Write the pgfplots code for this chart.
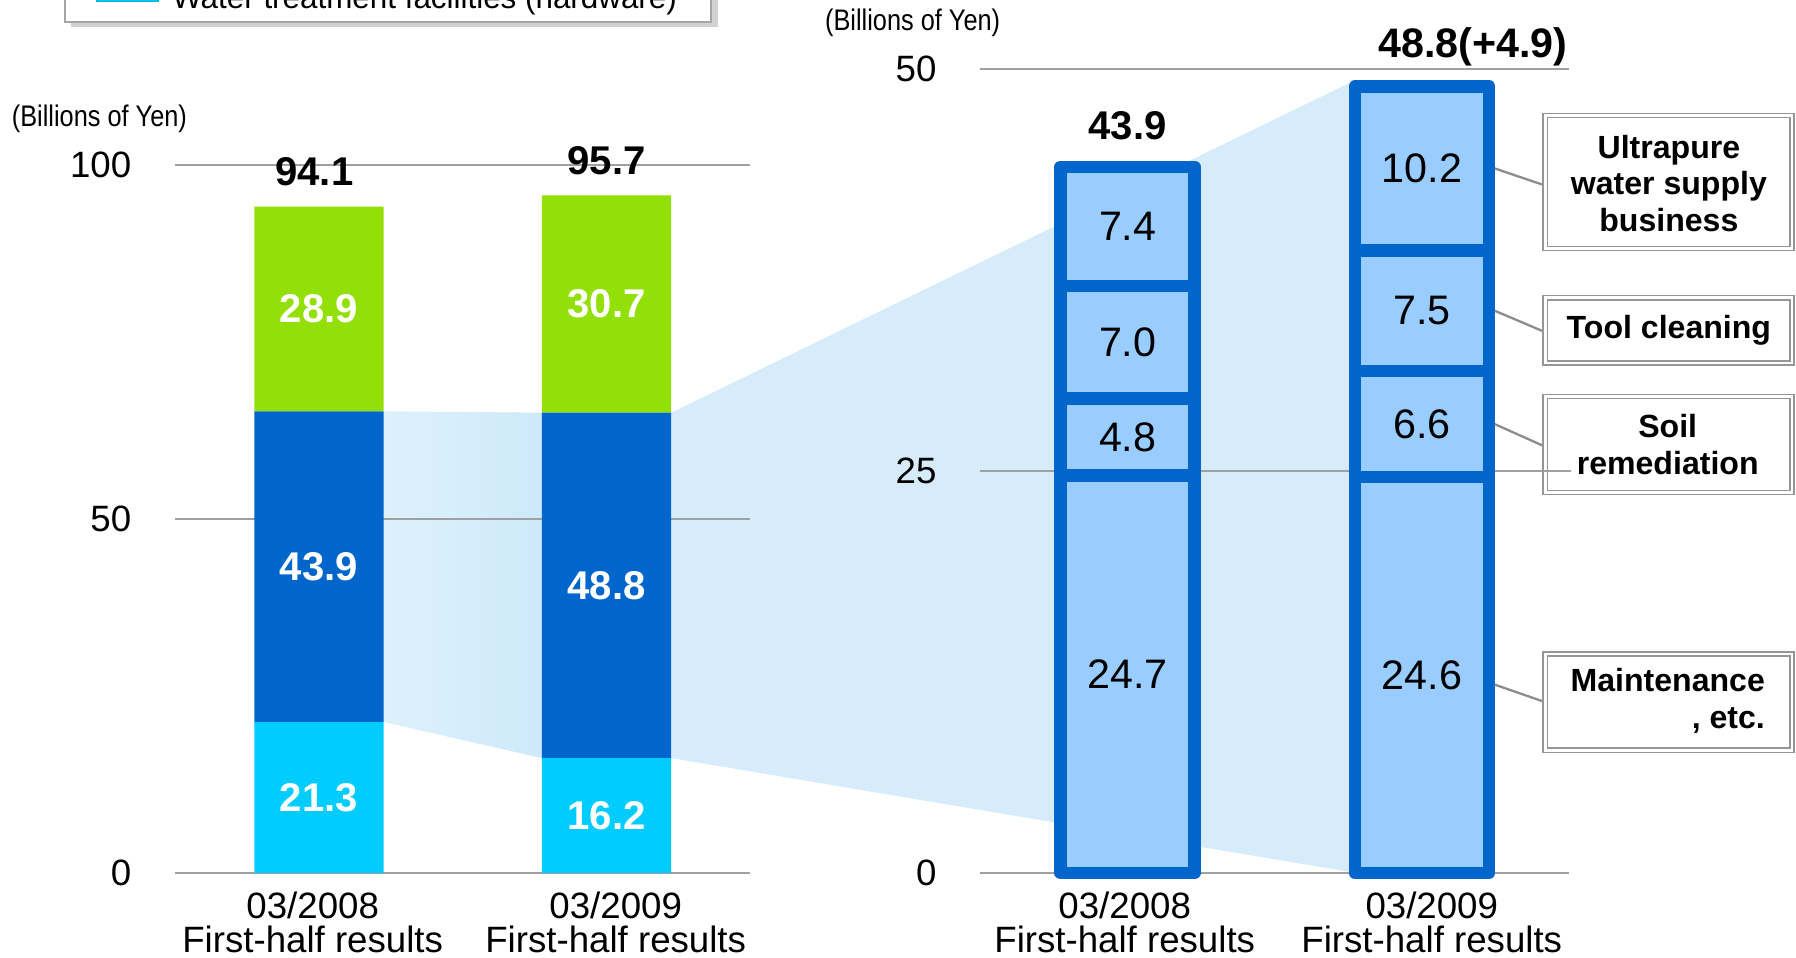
\documentclass[border=0pt]{standalone}
\usepackage{pgfplots}
\pgfplotsset{compat=1.18}
\usepackage{fontspec}
\setmainfont{Liberation Sans}
\newfontfamily\narrowfont{Liberation Sans}[FakeStretch=0.85]
\definecolor{wgreen}{RGB}{146,224,8}
\definecolor{wblue}{RGB}{0,102,204}
\definecolor{wcyan}{RGB}{0,204,255}
\definecolor{lbar}{RGB}{153,204,255}
\definecolor{shadeB}{RGB}{214,236,251}
\definecolor{shadeL}{RGB}{221,241,252}
\definecolor{shadeR}{RGB}{206,233,250}
\definecolor{gridc}{RGB}{160,160,160}
\definecolor{boxc}{RGB}{150,150,150}
\pgfplotsset{
  base/.style={
    scale only axis, anchor=south west, clip=false,
    axis line style={draw=none}, major tick length=0pt,
    ymin=0, xmin=-0.5, xmax=1.5,
    /pgf/number format/assume math mode=true,
    tick label style={font=\fontsize{16}{15}\selectfont},
    yticklabel style={anchor=east, inner sep=0pt, xshift=-19pt},
    xticklabel style={anchor=north, inner sep=0pt, align=center, yshift=-8pt},
  },
  leftgeo/.style={base, at={(76.5pt,37pt)}, width=251pt, height=309pt, ymax=100},
  rightgeo/.style={base, at={(428pt,37pt)}, width=257pt, height=351pt, ymax=50},
}
\tikzset{
  wlab/.style={font=\bfseries\fontsize{17.5}{18}\selectfont, text=white},
  blab/.style={font=\fontsize{18}{18}\selectfont},
  tot/.style={inner sep=0pt, font=\bfseries\fontsize{17.5}{18}\selectfont},
  conn/.style={draw=gray!90, line width=1pt},
  cbox/.style={draw=boxc, double=white, double distance=1.2pt, line width=0.6pt, fill=white},
  ctext/.style={font=\bfseries\fontsize{14}{16}\selectfont, inner sep=0pt},
}
\begin{document}
\begin{tikzpicture}
\path[use as bounding box] (0,0) rectangle (784pt,418pt);
\begin{scope}
\clip (0,0) rectangle (784pt,418pt);

% legend box (cut off at top, as in the reference)
\fill[gray!35] (31pt,406pt) rectangle (313.5pt,430pt);
\draw[fill=white, draw=gray!70, line width=0.9pt] (28.5pt,408.5pt) rectangle (310.5pt,430pt);
\draw[fill=wcyan, draw=wcyan!85!black, line width=0.5pt] (42pt,417.5pt) rectangle (69pt,426pt);
\node[anchor=base west, inner sep=0pt, font=\fontsize{13.7}{16}\selectfont] at (75pt,414.5pt) {Water treatment facilities (hardware)};

% unit labels
\node[anchor=west, inner sep=0pt, font=\narrowfont\fontsize{13}{15}\selectfont] at (5pt,366pt) {(Billions of Yen)};
\node[anchor=west, inner sep=0pt, font=\narrowfont\fontsize{13}{15}\selectfont] at (360pt,408pt) {(Billions of Yen)};

% ---- pass 1: invisible axes that only fix the anchor points of the shading
\begin{axis}[leftgeo, hide axis]
\addplot[draw=none, mark=none] coordinates {(0,0) (1,0)};
\coordinate (a1t) at (axis cs:0,65.2);
\coordinate (a1b) at (axis cs:0,21.3);
\coordinate (a2t) at (axis cs:1,65.0);
\coordinate (a2b) at (axis cs:1,16.2);
\end{axis}
\begin{axis}[rightgeo, hide axis]
\addplot[draw=none, mark=none] coordinates {(0,0) (1,0)};
\coordinate (r2t) at (axis cs:1,48.9);
\coordinate (r2b) at (axis cs:1,0);
\end{axis}

% connecting shading
\shade[left color=shadeL, right color=shadeR]
  ([xshift=28.25pt]a1t) -- ([xshift=-28.25pt]a2t) -- ([xshift=-28.25pt]a2b) -- ([xshift=28.25pt]a1b) -- cycle;
\fill[shadeB]
  ([xshift=28.25pt]a2t) -- ([xshift=-31.75pt,yshift=1.5pt]r2t) -- ([xshift=-29.25pt]r2b) -- ([xshift=28.25pt]a2b) -- cycle;

% ---------------- left chart ----------------
\begin{axis}[leftgeo, ybar stacked, ymajorgrids, grid style={gridc, line width=0.8pt},
  ytick={0,50,100}, bar width=56.5pt,
  xtick={-0.022,1.032},
  xticklabels={{03/2008\\First-half results},{03/2009\\First-half results}}]
\addplot[fill=wcyan, draw=none] coordinates {(0,21.3) (1,16.2)};
\addplot[fill=wblue, draw=none] coordinates {(0,43.9) (1,48.8)};
\addplot[fill=wgreen, draw=none] coordinates {(0,28.9) (1,30.7)};
\coordinate (l1) at (axis cs:0,10.65);
\coordinate (l2) at (axis cs:0,43.25);
\coordinate (l3) at (axis cs:0,79.65);
\coordinate (l4) at (axis cs:1,8.1);
\coordinate (l5) at (axis cs:1,40.6);
\coordinate (l6) at (axis cs:1,80.35);
\coordinate (lt1) at (axis cs:0,94.1);
\coordinate (lt2) at (axis cs:1,95.7);
\end{axis}
\node[wlab] at (l1) {21.3};
\node[wlab] at (l2) {43.9};
\node[wlab] at (l3) {28.9};
\node[wlab] at (l4) {16.2};
\node[wlab] at (l5) {48.8};
\node[wlab] at (l6) {30.7};
\node[tot, anchor=base, xshift=-2pt, yshift=9.3pt] at (lt1) {94.1};
\node[tot, anchor=base, yshift=9.3pt] at (lt2) {95.7};

% ---------------- right chart ----------------
\begin{axis}[rightgeo, ybar stacked, ymajorgrids, grid style={gridc, line width=0.8pt},
  ytick={0,25,50}, bar width=58.5pt,
  xtick={-0.01,1.033},
  xticklabels={{03/2008\\First-half results},{03/2009\\First-half results}}]
\addplot[fill=lbar, draw=wblue, line width=5.5pt, line join=round] coordinates {(0,24.7) (1,24.6)};
\addplot[fill=lbar, draw=wblue, line width=5.5pt, line join=round] coordinates {(0,4.8) (1,6.6)};
\addplot[fill=lbar, draw=wblue, line width=5.5pt, line join=round] coordinates {(0,7.0) (1,7.5)};
\addplot[fill=lbar, draw=wblue, line width=5.5pt, line join=round] coordinates {(0,7.4) (1,10.2)};
\coordinate (r1) at (axis cs:0,12.35);
\coordinate (r2) at (axis cs:0,27.1);
\coordinate (r3) at (axis cs:0,33.0);
\coordinate (r4) at (axis cs:0,40.2);
\coordinate (r5) at (axis cs:1,12.3);
\coordinate (r6) at (axis cs:1,27.9);
\coordinate (r7) at (axis cs:1,34.95);
\coordinate (r8) at (axis cs:1,43.8);
\coordinate (rt1) at (axis cs:0,43.9);
\coordinate (rt2) at (axis cs:1,48.9);
\coordinate (c4) at (axis cs:1,11.7);
\coordinate (g25) at (axis cs:1.5,25);
\end{axis}
\node[blab] at (r1) {24.7};
\node[blab] at (r2) {4.8};
\node[blab] at (r3) {7.0};
\node[blab] at (r4) {7.4};
\node[blab] at (r5) {24.6};
\node[blab] at (r6) {6.6};
\node[blab] at (r7) {7.5};
\node[blab] at (r8) {10.2};
\node[tot, anchor=base, yshift=11.8pt] at (rt1) {43.9};
\node[tot, anchor=base west, xshift=-19.25pt, yshift=12.7pt, font=\bfseries\fontsize{18}{18}\selectfont] at (rt2) {48.8(+4.9)};

% callouts
\draw[conn] ([xshift=31.75pt]r8) -- (674.5pt,337pt);
\draw[conn] ([xshift=31.75pt]r7) -- (674.5pt,273pt);
\draw[conn] ([xshift=31.75pt]r6) -- (674.5pt,223pt);
\draw[conn] ([xshift=31.75pt]c4) -- (674.5pt,111.5pt);
\draw[cbox] (674.5pt,309.5pt) rectangle (782.2pt,367.5pt);
\draw[cbox] (674.5pt,259.5pt) rectangle (782.2pt,288pt);
\draw[cbox] (674.5pt,203pt) rectangle (782.2pt,245pt);
\draw[cbox] (674.5pt,90.5pt) rectangle (782.2pt,132.5pt);
\draw[gridc, line width=0.8pt] ([xshift=-11pt]g25) -- ([xshift=0.8pt]g25);
\node[ctext, align=center] at (728.5pt,338pt) {Ultrapure\\water supply\\business};
\node[ctext, align=center] at (728.5pt,274pt) {Tool cleaning};
\node[ctext, align=center] at (728pt,224pt) {Soil\\remediation};
\node[ctext, align=right] at (728pt,112pt) {Maintenance\\, etc.};
\end{scope}
\end{tikzpicture}
\end{document}
